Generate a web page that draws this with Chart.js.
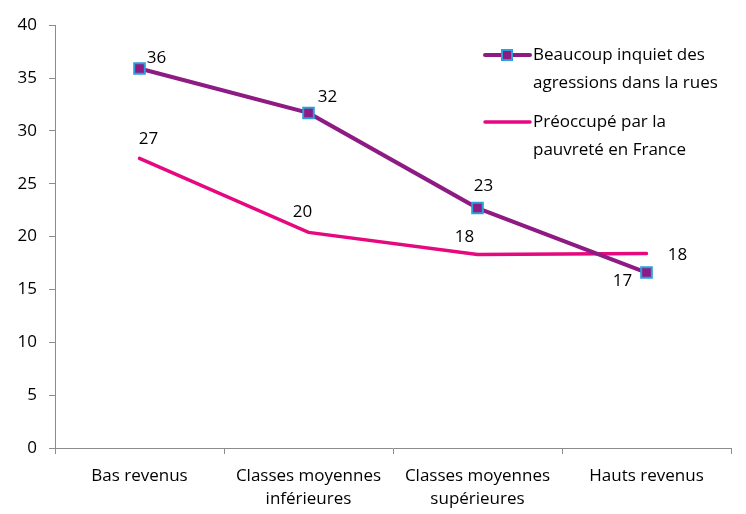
<!DOCTYPE html>
<html>
<head>
<meta charset="utf-8">
<script src="https://cdn.jsdelivr.net/npm/chart.js@4"></script>
<style>
html,body{margin:0;padding:0;background:#fff;}
#wrap{position:relative;width:746px;height:514px;padding-top:3px;box-sizing:border-box;}
canvas{display:block;}
</style>
</head>
<body>
<div id="wrap"><canvas id="c" width="746" height="511"></canvas></div>
<script>
const categories = [['Bas revenus'], ['Classes moyennes', 'inférieures'], ['Classes moyennes', 'supérieures'], ['Hauts revenus']];
const seriesNames = [['Beaucoup inquiet des', 'agressions dans la rues'], ['Préoccupé par la', 'pauvreté en France']];
const agressions = [35.9, 31.7, 22.7, 16.6];
const pauvrete = [27.4, 20.4, 18.3, 18.4];
const yTicks = [0, 5, 10, 15, 20, 25, 30, 35, 40];

const FONT = '"Open Sans", "Liberation Sans", Arial, sans-serif';
const FS = 17;
const PURPLE = '#8E1B84';
const PINK = '#E5087E';
const MARK_BORDER = '#2A9FDB';

// label offsets per point (style)
const labelOffsets = [
  [[17, -10], [19, -16], [6, -22], [-24, 9]],
  [[9, -19], [-6, -20], [-13, -17], [31, 2]]
];

const labelPlugin = {
  id: 'pointLabels',
  afterDatasetsDraw(chart) {
    const ctx = chart.ctx;
    ctx.save();
    ctx.font = FS + 'px ' + FONT;
    ctx.fillStyle = '#000';
    ctx.textAlign = 'center';
    ctx.textBaseline = 'middle';
    chart.data.datasets.forEach((ds, di) => {
      const meta = chart.getDatasetMeta(di);
      meta.data.forEach((pt, i) => {
        const o = labelOffsets[di][i];
        ctx.fillText(String(Math.round(ds.data[i])), pt.x + o[0], pt.y + o[1]);
      });
    });
    ctx.restore();
  }
};

const legendPlugin = {
  id: 'customLegend',
  afterDraw(chart) {
    const ctx = chart.ctx;
    ctx.save();
    ctx.font = FS + 'px ' + FONT;
    ctx.fillStyle = '#000';
    ctx.textAlign = 'left';
    ctx.textBaseline = 'middle';
    const x0 = 485, x1 = 530, tx = 533;
    const rows = [52, 119];
    const lh = 28;
    // series 1
    ctx.strokeStyle = PURPLE; ctx.lineWidth = 4; ctx.lineCap = 'round';
    ctx.beginPath(); ctx.moveTo(x0, rows[0]); ctx.lineTo(x1, rows[0]); ctx.stroke();
    ctx.fillStyle = PURPLE; ctx.strokeStyle = MARK_BORDER; ctx.lineWidth = 2;
    ctx.fillRect(502, rows[0] - 5, 10, 10); ctx.strokeRect(502, rows[0] - 5, 10, 10);
    // series 2
    ctx.strokeStyle = PINK; ctx.lineWidth = 3.5;
    ctx.beginPath(); ctx.moveTo(x0, rows[1]); ctx.lineTo(x1, rows[1]); ctx.stroke();
    ctx.fillStyle = '#000';
    seriesNames.forEach((lines, si) => {
      lines.forEach((t, li) => ctx.fillText(t, tx, rows[si] + li * lh));
    });
    ctx.restore();
  }
};

new Chart(document.getElementById('c'), {
  type: 'line',
  data: {
    labels: categories,
    datasets: [
      {
        label: seriesNames[0].join(' '),
        data: agressions,
        borderColor: PURPLE,
        borderWidth: 4,
        pointStyle: 'rect',
        pointRadius: 7.5,
        pointHoverRadius: 7.5,
        pointBackgroundColor: PURPLE,
        pointBorderColor: MARK_BORDER,
        pointBorderWidth: 2,
        tension: 0
      },
      {
        label: seriesNames[1].join(' '),
        data: pauvrete,
        borderColor: PINK,
        borderWidth: 3.5,
        pointRadius: 0,
        borderCapStyle: 'round',
        tension: 0
      }
    ]
  },
  options: {
    responsive: false,
    animation: false,
    devicePixelRatio: 1,
    layout: { padding: { top: 17, right: 15, left: 0, bottom: 0 } },
    plugins: { legend: { display: false }, tooltip: { enabled: false } },
    scales: {
      x: {
        offset: true,
        grid: { offset: true, drawOnChartArea: false, drawTicks: true, tickLength: 6, color: '#8c8c8c' },
        border: { color: '#8c8c8c', width: 1 },
        ticks: { color: '#000', font: { family: FONT, size: FS, lineHeight: 1.35 }, maxRotation: 0, autoSkip: false, padding: 11 },
        afterFit(s) { s.height = 66; }
      },
      y: {
        min: 0, max: 40,
        afterBuildTicks(s) { s.ticks = yTicks.map(v => ({ value: v })); },
        grid: { drawOnChartArea: false, drawTicks: true, tickLength: 6, color: '#8c8c8c' },
        border: { color: '#8c8c8c', width: 1 },
        ticks: { color: '#000', font: { family: FONT, size: FS }, padding: 12 },
        afterFit(s) { s.width = 55; }
      }
    }
  },
  plugins: [labelPlugin, legendPlugin]
});
</script>
</body>
</html>
